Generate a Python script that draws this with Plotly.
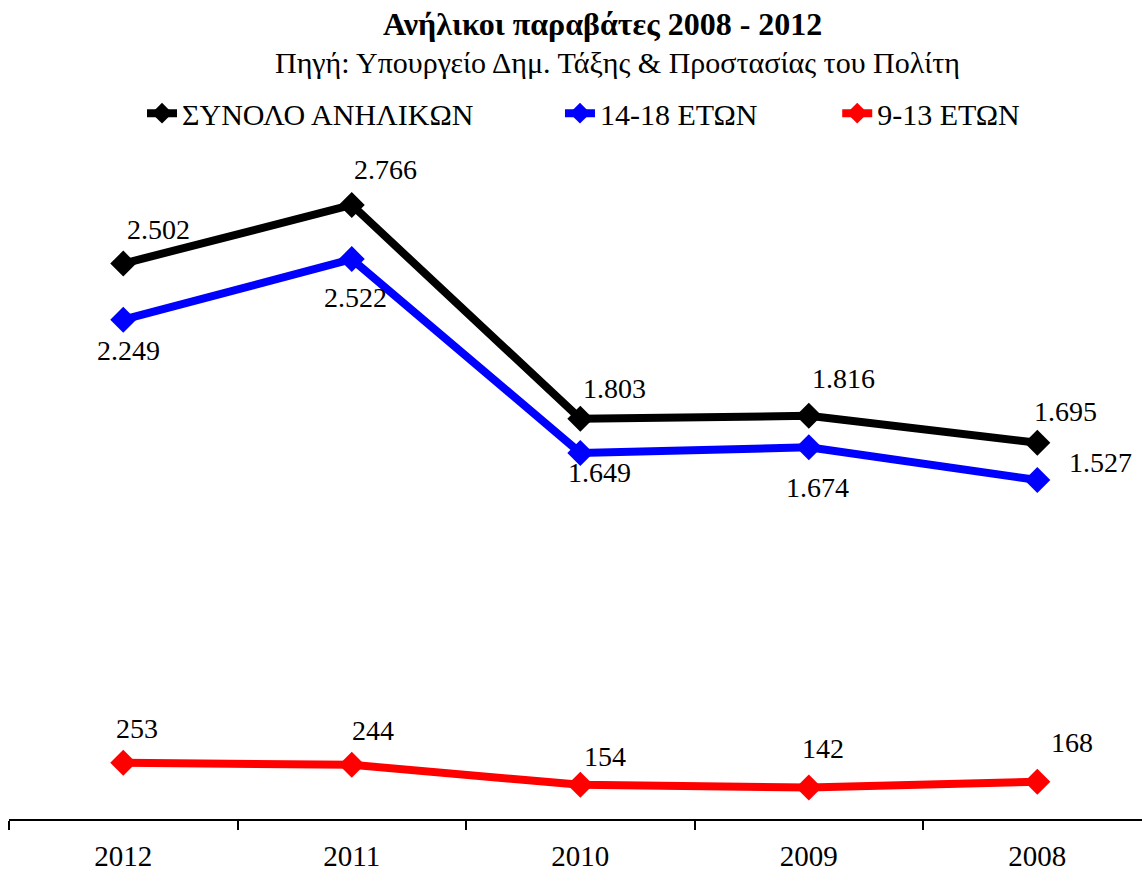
import plotly.graph_objects as go

years = ["2012", "2011", "2010", "2009", "2008"]
total = [2502, 2766, 1803, 1816, 1695]
age_14_18 = [2249, 2522, 1649, 1674, 1527]
age_9_13 = [253, 244, 154, 142, 168]

names = ["ΣΥΝΟΛΟ ΑΝΗΛΙΚΩΝ", "14-18 ΕΤΩΝ", "9-13 ΕΤΩΝ"]
colors = ["black", "blue", "red"]

# pixel offsets of the value labels from their points
shifts = [
    [(35, 34), (34, 35), (34, 30), (35, 37), (28, 31)],
    [(5, -31), (4, -38), (19, -20), (9, -40), (63, 18)],
    [(14, 34), (21, 34), (25, 28), (14, 39), (35, 39)],
]
legend_x = [0.1174, 0.4863, 0.7310]

FONT = "Liberation Serif"
W, H = 1142, 872
PLOT_H = 669


def fmt(v):
    return f"{v:,}".replace(",", ".")


fig = go.Figure()
annotations = []
series = [total, age_14_18, age_9_13]
for k, (name, ys, col, sh) in enumerate(zip(names, series, colors, shifts)):
    lg = "legend" if k == 0 else f"legend{k + 1}"
    fig.add_trace(go.Scatter(
        x=years, y=ys, name=name, mode="lines+markers",
        line=dict(color=col, width=8),
        marker=dict(symbol="diamond", size=20, color=col),
        legend=lg,
    ))
    for i, (y, (dx, dy)) in enumerate(zip(ys, sh)):
        annotations.append(dict(
            x=i, y=y, text=fmt(y), showarrow=False,
            xshift=dx, yshift=dy,
            font=dict(family=FONT, size=28, color="black"),
        ))

annotations.append(dict(
    xref="paper", yref="paper", x=0.5375, y=1 + 91 / PLOT_H,
    text="Πηγή: Υπουργείο Δημ. Τάξης & Προστασίας του Πολίτη",
    showarrow=False, yanchor="middle",
    font=dict(family=FONT, size=30, color="black"),
))

legends = {}
for k, lx in enumerate(legend_x):
    key = "legend" if k == 0 else f"legend{k + 1}"
    legends[key] = dict(
        orientation="h", x=lx, xanchor="left",
        y=1 + 40 / PLOT_H, yanchor="middle",
        font=dict(family=FONT, size=30, color="black"),
        bgcolor="rgba(0,0,0,0)",
    )

fig.update_layout(
    width=W, height=H,
    margin=dict(l=9, r=0, t=153, b=50),
    paper_bgcolor="white", plot_bgcolor="white",
    font=dict(family=FONT, size=30, color="black"),
    title=dict(
        text="<b>Ανήλικοι παραβάτες 2008 - 2012</b>",
        xref="paper", x=0.524, xanchor="center",
        y=1 - 24 / H, yanchor="middle",
        font=dict(family=FONT, size=32, color="black"),
    ),
    annotations=annotations,
    showlegend=True,
    **legends,
)

fig.update_xaxes(
    type="category", range=[-0.5, 4.458],
    showline=True, linecolor="black", linewidth=2,
    ticks="outside", tickson="boundaries", ticklen=9, tickwidth=2,
    tickcolor="black", showgrid=False, zeroline=False,
    tickfont=dict(family=FONT, size=29),
    ticklabelstandoff=10,
)
fig.update_yaxes(
    range=[0, 3000], visible=False, showgrid=False, zeroline=False,
)

# drop the page's default body margin so the figure sits at the window origin
fig.write_html(
    "out.html",
    config={"displayModeBar": False},
    post_script="document.body.style.margin='0';document.body.style.overflow='hidden';",
)
